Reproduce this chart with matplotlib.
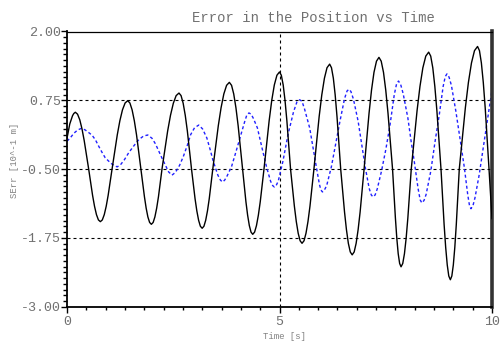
import matplotlib
matplotlib.use("Agg")
import matplotlib.pyplot as plt
import numpy as np

# ---- data ----
t_black = [0.0, 0.065, 0.13, 0.16, 0.196,
           0.248, 0.301, 0.353, 0.405, 0.51,
           0.602, 0.6475, 0.693, 0.739, 0.785,
           0.831, 0.877, 0.9225, 0.968, 1.06,
           1.183, 1.244, 1.305, 1.367, 1.428,
           1.48, 1.532, 1.584, 1.636, 1.74,
           1.822, 1.8625, 1.903, 1.944, 1.985,
           2.027, 2.068, 2.11, 2.152, 2.235,
           2.368, 2.435, 2.502, 2.568, 2.635,
           2.684, 2.733, 2.7825, 2.832, 2.93,
           3.013, 3.055, 3.097, 3.138, 3.18,
           3.222, 3.263, 3.305, 3.347, 3.43,
           3.56, 3.625, 3.69, 3.755, 3.82,
           3.872, 3.923, 3.975, 4.027, 4.13,
           4.21, 4.25, 4.29, 4.33, 4.37,
           4.414, 4.458, 4.5025, 4.547, 4.635,
           4.757, 4.8175, 4.878, 4.939, 5.0,
           5.043, 5.087, 5.13, 5.173, 5.26,
           5.35, 5.395, 5.44, 5.485, 5.53,
           5.577, 5.623, 5.67, 5.717, 5.81,
           5.933, 5.995, 6.057, 6.118, 6.18,
           6.223, 6.267, 6.31, 6.353, 6.44,
           6.53, 6.575, 6.62, 6.665, 6.71,
           6.757, 6.803, 6.85, 6.897, 6.99,
           7.107, 7.165, 7.223, 7.282, 7.34,
           7.393, 7.447, 7.50, 7.553, 7.66,
           7.727, 7.76, 7.793, 7.827, 7.86,
           7.90, 7.94, 7.98, 8.02, 8.10,
           8.237, 8.305, 8.373, 8.442, 8.51,
           8.558, 8.607, 8.655, 8.703, 8.80,
           8.873, 8.91, 8.947, 8.983, 9.02,
           9.055, 9.09, 9.125, 9.16, 9.23,
           9.373, 9.445, 9.517, 9.588, 9.66,
           9.705, 9.75, 9.795, 9.84, 9.93, 10.0]
v_black = [0.06, 0.32, 0.47, 0.51, 0.533,
           0.498, 0.395, 0.230, 0.017, -0.5,
           -0.978, -1.175, -1.327, -1.423, -1.455,
           -1.423, -1.327, -1.175, -0.978, -0.5,
           0.122, 0.379, 0.576, 0.701, 0.743,
           0.701, 0.576, 0.379, 0.122, -0.5,
           -1.002, -1.209, -1.369, -1.469, -1.503,
           -1.469, -1.369, -1.209, -1.002, -0.5,
           0.191, 0.477, 0.697, 0.835, 0.882,
           0.835, 0.697, 0.477, 0.191, -0.5,
           -1.038, -1.26, -1.431, -1.538, -1.575,
           -1.538, -1.431, -1.26, -1.038, -0.5,
           0.288, 0.614, 0.865, 1.022, 1.076,
           1.022, 0.865, 0.614, 0.288, -0.5,
           -1.093, -1.338, -1.526, -1.645, -1.685,
           -1.645, -1.526, -1.338, -1.093, -0.5,
           0.383, 0.748, 1.028, 1.205, 1.265,
           1.205, 1.028, 0.748, 0.383, -0.5,
           -1.174, -1.453, -1.667, -1.802, -1.848,
           -1.802, -1.667, -1.453, -1.174, -0.5,
           0.454, 0.848, 1.151, 1.342, 1.407,
           1.342, 1.151, 0.848, 0.454, -0.5,
           -1.279, -1.60, -1.849, -2.005, -2.058,
           -2.005, -1.849, -1.60, -1.279, -0.5,
           0.515, 0.935, 1.258, 1.461, 1.53,
           1.461, 1.258, 0.935, 0.515, -0.5,
           -1.388, -1.755, -2.037, -2.215, -2.275,
           -2.215, -2.037, -1.755, -1.388, -0.5,
           0.563, 1.002, 1.340, 1.553, 1.625,
           1.553, 1.340, 1.002, 0.563, -0.5,
           -1.505, -1.921, -2.241, -2.442, -2.51,
           -2.442, -2.241, -1.921, -1.505, -0.5,
           0.614, 1.075, 1.429, 1.652, 1.728,
           1.652, 1.429, 1.075, 0.614, -0.5, -1.4]

t_blue = [0.0, 0.08, 0.16, 0.25, 0.337, 0.42, 0.50, 0.59, 0.67, 0.745,
          0.82, 0.90, 0.98, 1.06, 1.18, 1.26, 1.35, 1.45, 1.57, 1.69,
          1.80, 1.90, 2.00, 2.08, 2.16, 2.24, 2.31, 2.39, 2.47, 2.55,
          2.65, 2.74, 2.83, 2.91, 3.00, 3.10, 3.19, 3.29, 3.37, 3.44,
          3.55, 3.61, 3.66, 3.71, 3.77, 3.875, 3.97, 4.07, 4.18, 4.23, 4.28,
          4.33, 4.38, 4.48, 4.59, 4.70, 4.79, 4.84, 4.88, 4.92, 4.97, 5.08,
          5.20, 5.33, 5.41, 5.475, 5.53, 5.59, 5.71, 5.87, 5.94, 5.975, 6.01,
          6.05, 6.11, 6.22, 6.32, 6.42, 6.53, 6.59, 6.635, 6.68, 6.74, 6.85,
          6.94, 7.02, 7.11, 7.16, 7.20, 7.25, 7.30, 7.40, 7.50, 7.60, 7.70,
          7.755, 7.80, 7.85, 7.91, 8.02, 8.10, 8.17, 8.26, 8.31, 8.35, 8.40,
          8.45, 8.56, 8.66, 8.76, 8.85, 8.90, 8.94, 8.99, 9.045, 9.15, 9.25,
          9.35, 9.43, 9.47, 9.505, 9.55, 9.60, 9.70, 9.80, 9.90, 10.0]
v_blue = [0.007, 0.07, 0.15, 0.21, 0.240, 0.215, 0.17, 0.116, 0.03, -0.083,
          -0.19, -0.295, -0.355, -0.41, -0.46, -0.42, -0.33, -0.205, -0.08, 0.036,
          0.10, 0.12, 0.06, -0.04, -0.174, -0.31, -0.42, -0.55, -0.61, -0.56,
          -0.43, -0.265, -0.07, 0.127, 0.25, 0.30, 0.23, 0.067, -0.15, -0.355,
          -0.61, -0.70, -0.735, -0.70, -0.62, -0.446, -0.20, 0.067, 0.36, 0.48, 0.52,
          0.50, 0.43, 0.248, -0.12, -0.476, -0.72, -0.80, -0.826, -0.80, -0.72, -0.36,
          0.127, 0.54, 0.72, 0.76, 0.73, 0.59, 0.248, -0.476, -0.78, -0.88, -0.915,
          -0.89, -0.80, -0.46, -0.05, 0.36, 0.78, 0.92, 0.95, 0.91, 0.77, 0.37,
          -0.08, -0.476, -0.85, -0.97, -1.005, -0.97, -0.86, -0.536, -0.15, 0.30, 0.85,
          1.05, 1.10, 1.04, 0.87, 0.43, -0.01, -0.355, -0.85, -1.06, -1.115, -1.07,
          -0.96, -0.536, 0.00, 0.49, 1.00, 1.18, 1.23, 1.17, 1.02, 0.55, 0.04,
          -0.476, -0.97, -1.16, -1.22, -1.17, -1.02, -0.597, -0.08, 0.43, 0.94]

y_major = [-3.0, -1.75, -0.5, 0.75, 2.0]
y_labels = ["-3.00", "-1.75", "-0.50", "0.75", "2.00"]
x_major = [0, 5, 10]
x_labels = ["0", "5", "10"]
grid_y = [0.75, -0.5, -1.75]
grid_x = [5]

title = "Error in the Position vs Time"
xlabel = "Time [s]"
ylabel = "SErr [10^-1 m]"

# ---- figure ----
W, H = 503, 343
fig = plt.figure(figsize=(W / 100, H / 100), dpi=100)
ax = fig.add_axes([67 / W, 1 - 306.7 / H, (492 - 67) / W, (306.7 - 31.5) / H])

mono = ["Liberation Mono", "DejaVu Sans Mono"]
gray = "#707070"

for gy in grid_y:
    ax.axhline(gy, color="black", lw=0.8, ls=(0, (2.7, 2.7)), zorder=1)
for gx in grid_x:
    ax.axvline(gx, color="black", lw=0.8, ls=(0, (2.7, 2.7)), zorder=1)

ax.plot(t_blue, v_blue, color="#2020ff", lw=1.0, ls=(0, (2.2, 1.8)), zorder=2)
ax.plot(t_black, v_black, color="black", lw=1.0, zorder=3)

ax.set_xlim(0, 10)
ax.set_ylim(-3.0, 2.0)

ax.set_yticks(y_major)
ax.set_yticklabels(y_labels)
ax.set_xticks(x_major)
ax.set_xticklabels(x_labels)
ax.set_yticks(np.linspace(-3.0, 2.0, 49), minor=True)
ax.set_xticks(np.linspace(0, 10, 23), minor=True)

ax.tick_params(axis="y", which="major", direction="out", length=4, width=1.0,
               pad=0.5, labelsize=9.6, labelcolor=gray, color="black")
ax.tick_params(axis="y", which="minor", direction="out", length=3, width=1.0,
               color="black")
ax.tick_params(axis="x", which="major", direction="out", length=4, width=1.0,
               pad=2.5, labelsize=9.6, labelcolor=gray, color="black")
ax.tick_params(axis="x", which="minor", direction="out", length=2, width=1.0,
               color="black")
for lab in ax.get_xticklabels() + ax.get_yticklabels():
    lab.set_family(mono)

ax.spines["top"].set_linewidth(0.9)
ax.spines["left"].set_linewidth(1.3)
ax.spines["bottom"].set_linewidth(1.3)
ax.spines["right"].set_linewidth(2.6)
ax.spines["right"].set_color("#333333")

fig.text(313 / W, 1 - 18 / H, title, family=mono, fontsize=10, color=gray,
         ha="center", va="center")
fig.text(284.7 / W, 1 - 336.5 / H, xlabel, family=mono, fontsize=6.4,
         color="#808080", ha="center", va="center")
fig.text(15 / W, 1 - 160.5 / H, ylabel, family=mono, fontsize=6.4,
         color="#808080", ha="center", va="center", rotation=90)

fig.savefig("out.png", dpi=100)
